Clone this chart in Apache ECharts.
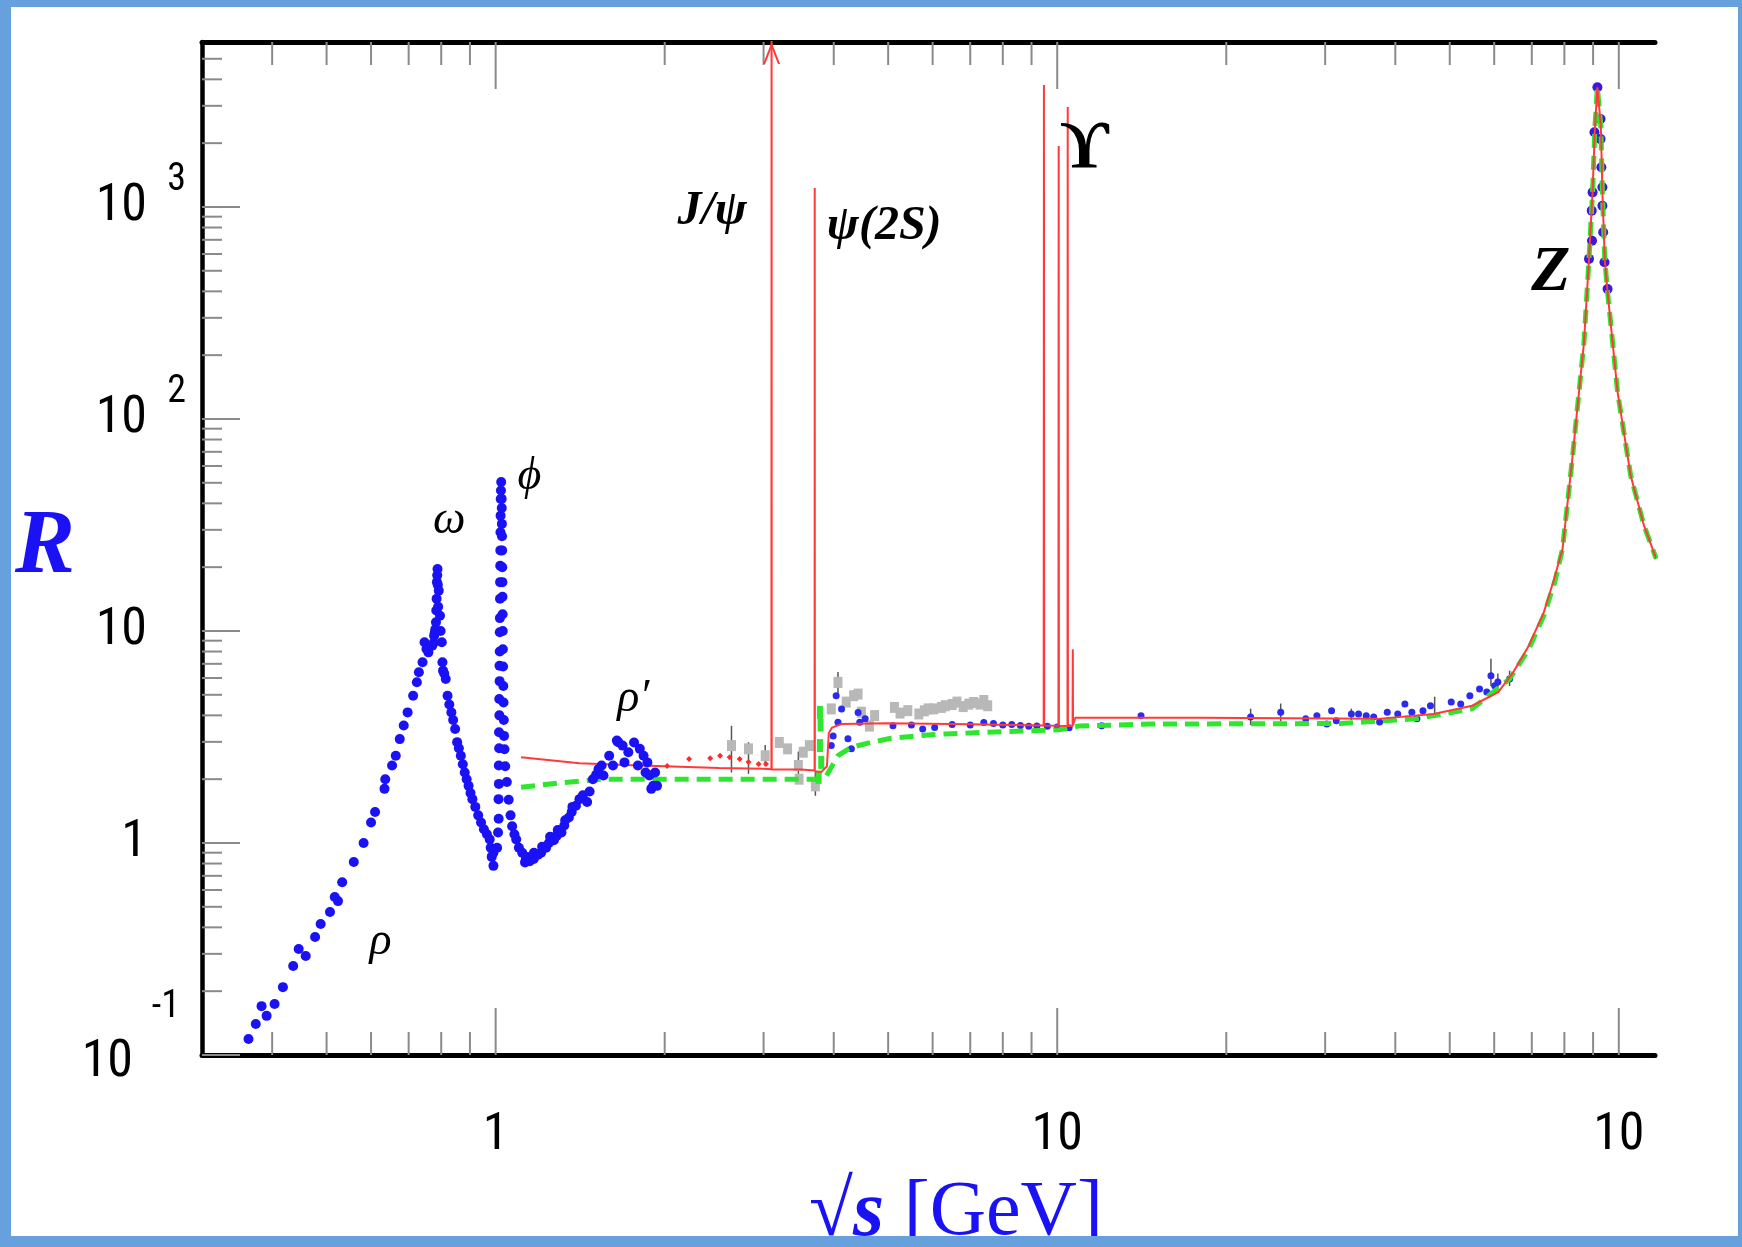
<!DOCTYPE html>
<html>
<head>
<meta charset="utf-8">
<title>R ratio</title>
<script src="https://cdn.jsdelivr.net/npm/echarts@6/dist/echarts.min.js"></script>
<style>
html,body{margin:0;padding:0;background:#fff;}
#main{width:1742px;height:1247px;}
</style>
</head>
<body>
<div id="main"></div>
<script>
// axis ranges (GeV / R)
var X_MIN = 0.3, X_MAX = 116;
var Y_MIN = 0.1, Y_MAX = 6000;

// ticks
var xMajorTicks = [1, 10, 100];
var xMinorTicks = [0.4,0.5,0.6,0.7,0.8,0.9,2,3,4,5,6,7,8,9,20,30,40,50,60,70,80,90];
var yMajorTicks = [0.1, 1, 10, 100, 1000];
var yMinorTicks = [0.2,0.3,0.4,0.5,0.6,0.7,0.8,0.9,2,3,4,5,6,7,8,9,20,30,40,50,60,70,80,90,
	200,300,400,500,600,700,800,900,2000,3000,4000,5000];

// tick labels
var xLabelVals = [1, 10, 100];
var xLabelBase = ['1', '10', '10'];
var xLabelSup = ['', '', '2'];
var yLabelVals = [0.1, 1, 10, 100, 1000];
var yLabelBase = ['10', '1', '10', '10', '10'];
var yLabelSup = ['-1', '', '', '2', '3'];

// low energy data: rho, omega, phi, rho'
var rhoData = [[0.363,0.119],[0.374,0.140],[0.383,0.170],[0.391,0.153],[0.404,0.174],[0.418,0.209],
	[0.436,0.263],[0.446,0.316],[0.459,0.293],[0.477,0.360],[0.488,0.415],[0.507,0.473],[0.517,0.556],
	[0.524,0.532],[0.533,0.653],[0.559,0.814],[0.582,1.0],[0.600,1.25],[0.610,1.40],[0.634,1.80],
	[0.636,2.0],[0.654,2.32],[0.664,2.58],[0.675,3.09],[0.686,3.58],[0.697,4.13],[0.713,4.95],
	[0.724,5.73],[0.730,6.39],[0.741,7.12],[0.747,8.85],[0.753,8.23],[0.759,7.93],[0.771,8.53],
	[0.776,8.8],[0.777,9.5],[0.779,9.8]];
var omegaData = [[0.781,10.2],[0.783,11.0],[0.784,12.5],[0.785,14.2],[0.786,17.0],[0.787,18.3],
	[0.788,19.6],[0.789,16.5],[0.790,13],[0.792,15.5],[0.796,11.8],[0.798,10.0],[0.802,8.85],
	[0.804,7.12],[0.806,6.5],[0.810,6.3],[0.815,5.94],[0.821,4.95],[0.827,4.5],[0.834,4.13],[0.84,3.8],
	[0.847,3.45],[0.854,2.99],[0.86,2.8],[0.867,2.58],[0.874,2.35],[0.881,2.15],[0.888,2.0],[0.895,1.86],
	[0.902,1.72],[0.909,1.61],[0.92,1.48],[0.931,1.35],[0.942,1.25],[0.953,1.16],[0.965,1.1],
	[0.976,1.04],[0.98,0.95],[0.984,0.86],[0.991,0.90],[0.991,0.78]];
var phiData = [[1.006,0.95],[1.010,1.12],[1.0125,1.3],[1.012,1.61],[1.0135,1.9],[1.013,2.32],
	[1.0145,2.8],[1.014,3.33],[1.0155,4.0],[1.015,4.78],[1.0165,5.8],[1.016,6.86],[1.017,8.0],
	[1.017,9.86],[1.0175,11.5],[1.018,14.2],[1.0185,17],[1.019,20.3],[1.0195,24],[1.020,29.2],
	[1.0205,35],[1.021,41.9],[1.022,46],[1.023,50.4],[1.025,42],[1.0255,38],[1.026,32],[1.0265,28],
	[1.027,24],[1.0275,20],[1.028,17],[1.0285,14.5],[1.029,12],[1.0295,10],[1.030,8.2],[1.031,6.8],
	[1.032,5.5],[1.033,4.6],[1.034,3.8],[1.035,3.2],[1.037,2.77],[1.04,2.3],[1.047,1.94],[1.055,1.6],
	[1.063,1.35],[1.07,1.2],[1.08,1.1]];
var rhoPrimeData = [[1.088,1.04],[1.10,0.95],[1.115,0.90],[1.128,0.81],[1.132,0.84],[1.14,0.86],
	[1.15,0.82],[1.169,0.84],[1.17,0.90],[1.19,0.88],[1.205,0.90],[1.21,0.96],[1.23,0.95],[1.244,1.0],
	[1.25,1.07],[1.27,1.03],[1.284,1.08],[1.29,1.15],[1.31,1.12],[1.325,1.21],[1.33,1.28],[1.35,1.32],
	[1.366,1.40],[1.37,1.48],[1.39,1.5],[1.410,1.61],[1.43,1.68],[1.455,1.56],[1.47,1.75],[1.490,2.0],
	[1.51,2.1],[1.525,2.23],[1.544,2.32],[1.556,2.08],[1.593,2.58],[1.618,2.32],[1.644,3.04],
	[1.653,2.99],[1.683,2.88],[1.696,2.40],[1.723,2.68],[1.764,2.98],[1.792,2.32],[1.806,2.78],
	[1.834,2.58],[1.849,2.15],[1.863,2.40],[1.878,2.08],[1.893,1.80],[1.908,1.86],[1.923,2.15],[1.938,1.86]];

// other experiments (grey) and charm threshold points
var greyData = [[2.63,2.88],[2.82,2.78],[3.02,2.58],[3.2,2.98],[3.31,2.78],[3.46,2.32],[3.47,2.0],
	[3.53,2.68],[3.62,2.88],[3.71,1.86],[3.96,4.29],[4.07,5.72],[4.21,4.62],[4.34,4.95],[4.42,5.04],
	[4.48,4.14],[4.63,3.56],[4.73,3.99],[5.13,4.36],[5.25,4.1],[5.42,4.21],[5.67,4.06],[5.8,4.2],
	[5.89,4.29],[6.03,4.29],[6.22,4.36],[6.32,4.44],[6.5,4.5],[6.63,4.62],[6.8,4.4],[6.96,4.52],
	[7.1,4.6],[7.29,4.52],[7.4,4.7],[7.52,4.44]];
var greenPts = [[3.76,2.04],[3.78,2.88],[3.78,4.13],[3.79,3.6],[3.8,2.4]];
var redStars = [[2.02,2.31],[2.21,2.49],[2.41,2.51],[2.51,2.58],[2.61,2.54],[2.72,2.49],[2.82,2.41],
	[2.94,2.36],[3.03,2.36]];

// error bars [x, low, high]
var errBars = [[2.63,2.15,3.57],[2.82,2.12,2.99],[3.02,2.3,2.9],[3.46,2.0,2.7],[3.71,1.67,2.16],
	[4.07,5.0,6.4],[7.52,4.2,4.7],[22.1,3.6,4.3],[25.0,3.75,4.55],[33.4,3.8,4.3],[47.0,4.0,4.9],
	[59.2,5.5,7.4],[60.9,5.2,6.3],[63.9,5.5,6.5]];

// blue data above 3.9 GeV
var midData = [[3.96,2.88],[3.99,3.2],[4.04,4.95],[4.07,3.71],[4.13,4.29],[4.24,3.1],[4.3,2.78],
	[4.42,4.13],[4.45,3.71],[4.55,3.85],[5.1,3.57],[5.5,3.6],[5.76,3.45],[6.05,3.51],[6.5,3.62],
	[7.0,3.6],[7.4,3.7],[7.7,3.66],[8.0,3.6],[8.3,3.62],[8.6,3.58],[8.9,3.55],[9.2,3.56],[9.6,3.55],
	[10.0,3.52],[10.5,3.5],[12.0,3.57],[14.1,3.98],[22.1,3.93],[25.0,4.14],[27.7,3.85],[29.0,3.98],
	[30.2,3.64],[30.8,4.21],[31.4,3.77],[33.4,4.06],[34.4,4.06],[35.5,3.98],[36.6,3.93],[37.5,3.72],
	[38.7,4.14],[40.4,4.06],[41.6,4.52],[42.8,4.14],[43.7,3.85],[44.8,4.21],[46.2,4.44],[50.3,4.62],
	[52.3,4.52],[54.3,4.95],[56.5,5.32],[58.2,5.15],[59.2,6.15],[60.1,5.52],[60.9,5.75],[63.9,5.94]];
var zData = [[88.5,569],[89.5,961],[89.6,693],[89.8,1172],[90.5,2250],[91.6,3670],[92.8,2600],
	[92.8,2090],[93.1,1540],[93.5,1240],[93.5,1014],[93.8,760],[94.3,549],[95.5,410]];

// theory curves
var redCurve = [[1.11,2.54],[1.41,2.38],[1.7,2.33],[2.0,2.30],[2.5,2.26],[3.0,2.24],[3.098,2.23],
	[3.10,20000],[3.102,2.22],[3.5,2.22],[3.698,2.2],[3.70,1230],[3.702,2.18],[3.8,2.16],[3.89,2.3],
	[3.92,3.3],[3.97,3.5],[4.13,3.64],[5,3.67],[7,3.63],[9.46,3.58],[9.47,3760],[9.48,3.58],
	[10.05,3.57],[10.06,1940],[10.07,3.57],[10.43,3.56],[10.44,2960],[10.45,3.56],[10.65,3.56],
	[10.66,8.2],[10.67,3.6],[10.77,3.9],[18,3.9],[37.2,3.85],[46.8,4.06],[54.8,4.44],[61,5.15],
	[64.9,6.4],[69.1,8.5],[73.5,12.2],[76.7,17.6],[79.4,24.4],[82.6,64],[86.7,230],[88.5,569],
	[89.8,1172],[90.7,2417],[91.6,3670],[92.9,2417],[93.5,1172],[94.4,569],[95.5,397],[99.5,134],
	[105,54],[110.9,31.4],[116.6,21.9]];
var greenCurve = [[1.11,1.83],[1.3,1.92],[1.54,2.0],[2.0,2.0],[3.0,2.0],[3.85,2.0],[4.07,2.58],
	[4.3,2.83],[4.66,2.98],[5.06,3.12],[5.5,3.18],[5.89,3.23],[6.32,3.27],[8.0,3.35],[10.1,3.42],
	[10.9,3.56],[14.7,3.64],[31.9,3.66],[43.4,3.85],[54.8,4.29],[63.9,5.94],[69.1,8.2],[73.5,11.8],
	[76.9,17],[79.4,24.4],[82.6,64],[86.7,230],[88.5,569],[89.8,1172],[90.7,2417],[91.6,3670],
	[92.9,2417],[93.5,1172],[94.4,569],[95.5,397],[99.5,134],[105,54],[110.9,31.4],[116.6,21.9]];

// resonance labels
var annNames = ['ρ', 'ω', 'ϕ', 'ρ′', 'J/ψ', 'ψ(2S)', 'ϒ', 'Z'];
var annX = [0.624, 0.827, 1.149, 1.758, 2.43, 4.92, 11.2, 75.7];
var annY = [0.341, 32.9, 53.2, 4.78, 947, 809, 1878, 488];

var NARROW = '"Liberation Sans Narrow","Arial Narrow","Roboto Condensed","DejaVu Sans Condensed",sans-serif';
var SERIF = '"Liberation Serif","DejaVu Serif",serif';
var BLUE = '#1a12f5';
var tickStyle = {stroke: '#8a8a8a', lineWidth: 2};

// ticks as [x, y, kind]  kind: 0 x-major, 1 x-minor, 2 y-major, 3 y-minor
function buildTicks(){
	var out = [];
	xMajorTicks.forEach(function(v){ out.push([v, Y_MIN, 0]); });
	xMinorTicks.forEach(function(v){ out.push([v, Y_MIN, 1]); });
	yMajorTicks.forEach(function(v){ out.push([X_MIN, v, 2]); });
	yMinorTicks.forEach(function(v){ out.push([X_MIN, v, 3]); });
	return out;
}
function renderTick(params, api){
	var kind = api.value(2);
	var major = (kind === 0 || kind === 2);
	if(kind < 2){
		var v = api.value(0);
		var pb = api.coord([v, Y_MIN]);
		var pt = api.coord([v, Y_MAX]);
		var len = major ? 47 : 23;
		return {type:'group', children:[
			{type:'line', shape:{x1:pb[0], y1:pb[1], x2:pb[0], y2:pb[1]-len}, style:tickStyle},
			{type:'line', shape:{x1:pt[0], y1:pt[1], x2:pt[0], y2:pt[1]+len}, style:tickStyle}
		]};
	}
	var p = api.coord([X_MIN, api.value(1)]);
	var l = major ? 38 : 20;
	return {type:'line', shape:{x1:p[0], y1:p[1], x2:p[0]+l, y2:p[1]}, style:tickStyle};
}
//误差棒
function renderErr(params, api){
	var lo = api.coord([api.value(0), api.value(1)]);
	var hi = api.coord([api.value(0), api.value(2)]);
	return {type:'line', shape:{x1:lo[0], y1:lo[1], x2:hi[0], y2:hi[1]}, style:{stroke:'#555', lineWidth:1.5}};
}
function sameDecade(a, b){
	return Math.abs(Math.log10(a) - Math.log10(b)) < 1e-6;
}
function yLabel(v){
	for(var i=0;i<yLabelVals.length;i++){
		if(sameDecade(v, yLabelVals[i])){
			if(i === 0) return '{c|' + yLabelBase[i] + '}{t|' + yLabelSup[i] + '}';
			return '{b|' + yLabelBase[i] + '}{s|' + yLabelSup[i] + '}';
		}
	}
	return '';
}
function xLabel(v){
	for(var i=0;i<xLabelVals.length;i++){
		if(sameDecade(v, xLabelVals[i])){
			if(xLabelSup[i]) return '{sp|}{b|' + xLabelBase[i] + '}{s|' + xLabelSup[i] + '}';
			return '{b|' + xLabelBase[i] + '}';
		}
	}
	return '';
}
function annItems(){
	var big = {'ϒ': [68, 'normal', 'bold'], 'Z': [64, 'italic', 'bold'], 'J/ψ': [48, 'italic', 'bold'], 'ψ(2S)': [48, 'italic', 'bold']};
	return annNames.map(function(n, i){
		var st = big[n] || [46, 'italic', 'normal'];
		return {name:n, value:[annX[i], annY[i]],
			label:{fontSize:st[0], fontStyle:st[1], fontWeight:st[2]}};
	});
}

var myChart = echarts.init(document.getElementById('main'));
var option = {
	animation:false,
	backgroundColor:'#fff',
	grid:{left:202, top:42, width:1453, height:1013, containLabel:false, outerBoundsMode:'none'},
	xAxis:[
		{
			type:'log', min:X_MIN, max:X_MAX, position:'bottom',
			axisLine:{lineStyle:{color:'#000', width:5}},
			axisTick:{show:false}, splitLine:{show:false},
			axisLabel:{
				margin:39, formatter:xLabel, showMinLabel:false, showMaxLabel:false,
				rich:{
					b:{fontSize:52, lineHeight:44, padding:[40,0,0,0], fontFamily:NARROW, color:'#000'},
					s:{fontSize:38, lineHeight:44, verticalAlign:'top', width:26, align:'left', padding:[0,0,0,12], fontFamily:NARROW, color:'#000'},
					sp:{width:38, lineHeight:44}
				}
			},
			name:'{r|√}{s|s}{g| [GeV]}', nameLocation:'middle', nameGap:119, nameMoveOverlap:false,
			nameTextStyle:{
				color:BLUE, padding:[0,0,0,55],
				rich:{
					r:{fontSize:80, lineHeight:80, fontWeight:'bold', fontFamily:SERIF, color:BLUE},
					s:{fontSize:80, lineHeight:80, fontWeight:'bold', fontStyle:'italic', fontFamily:SERIF, color:BLUE},
					g:{fontSize:78, lineHeight:80, fontFamily:SERIF, color:BLUE}
				}
			}
		},
		{
			type:'log', min:X_MIN, max:X_MAX, position:'top',
			axisLine:{lineStyle:{color:'#000', width:5}},
			axisTick:{show:false}, axisLabel:{show:false}, splitLine:{show:false}
		}
	],
	yAxis:{
		type:'log', min:Y_MIN, max:Y_MAX,
		axisLine:{lineStyle:{color:'#000', width:4.5}},
		axisTick:{show:false}, splitLine:{show:false},
		axisLabel:{
			margin:16, formatter:yLabel, showMaxLabel:false,
			rich:{
				b:{fontSize:52, lineHeight:44, fontFamily:NARROW, color:'#000', verticalAlign:'middle'},
				s:{fontSize:38, lineHeight:34, width:39, align:'right', padding:[0,0,52,0], fontFamily:NARROW, color:'#000', verticalAlign:'middle'},
				c:{fontSize:52, lineHeight:44, padding:[16,0,0,0], fontFamily:NARROW, color:'#000', verticalAlign:'middle'},
				t:{fontSize:38, lineHeight:34, width:47, align:'right', padding:[0,6,96,0], fontFamily:NARROW, color:'#000', verticalAlign:'middle'}
			}
		},
		name:'R', nameLocation:'middle', nameGap:127, nameRotate:0, nameMoveOverlap:false,
		nameTextStyle:{fontSize:90, fontFamily:SERIF, fontStyle:'italic', fontWeight:'bold', color:BLUE}
	},
	series:[
		{
			type:'custom', name:'ticks', data:buildTicks(), renderItem:renderTick,
			clip:false, silent:true, z:1
		},
		{
			type:'custom', name:'errors', data:errBars, renderItem:renderErr,
			silent:true, z:2
		},
		{
			type:'scatter', name:'other', data:greyData, symbol:'rect', symbolSize:[9,11],
			itemStyle:{color:'#b8b8b8', opacity:1}, silent:true, z:2
		},
		{
			type:'scatter', name:'threshold', data:greenPts, symbol:'rect', symbolSize:[6,13],
			itemStyle:{color:'#2ee62e', opacity:1}, silent:true, z:2
		},
		{
			type:'scatter', name:'data high', data:midData, symbolSize:7,
			itemStyle:{color:'#2a2af0', opacity:1}, silent:true, z:3
		},
		{
			type:'scatter', name:'Z data', data:zData, symbolSize:10,
			itemStyle:{color:'#3a18e0', opacity:1}, silent:true, z:3
		},
		{
			type:'line', name:'naive', data:greenCurve, showSymbol:false, symbol:'none',
			lineStyle:{color:'#2ee62e', width:5, type:[14,8]}, silent:true, z:4
		},
		{
			type:'line', name:'QCD', data:redCurve, showSymbol:false, symbol:'none',
			lineStyle:{color:'#ff3a3a', width:2}, silent:true, z:5,
			markPoint:{
				silent:true,
				symbol:'path://M0,24 L10,0 L20,24 L17.5,24 L10,6 L2.5,24 Z',
				symbolSize:[17,22], symbolOffset:[0,11],
				itemStyle:{color:'#ff3a3a'}, label:{show:false},
				data:[{coord:[redCurve[7][0], Y_MAX]}]
			}
		},
		{
			type:'scatter', name:'stars', data:redStars, symbol:'diamond', symbolSize:6,
			itemStyle:{color:'#ff2a2a', opacity:1}, silent:true, z:6
		},
		{
			type:'scatter', name:'data low', data:rhoData.concat(omegaData, phiData, rhoPrimeData),
			symbolSize:10, itemStyle:{color:BLUE, opacity:1}, silent:true, z:6
		},
		{
			type:'scatter', name:'labels', data:annItems(), symbol:'circle', symbolSize:1,
			itemStyle:{color:'rgba(0,0,0,0)'}, silent:true, z:7,
			label:{show:true, position:'inside', formatter:'{b}', color:'#000', opacity:1, fontFamily:SERIF}
		}
	],
	graphic:[
		{type:'rect', z:99, shape:{x:1658, y:950, width:82, height:290}, style:{fill:'#fff'}},
		{type:'rect', z:100, shape:{x:0, y:0, width:11, height:1247}, style:{fill:'#67a1dd'}},
		{type:'rect', z:100, shape:{x:0, y:0, width:1742, height:7}, style:{fill:'#67a1dd'}},
		{type:'rect', z:100, shape:{x:0, y:1236, width:1742, height:11}, style:{fill:'#67a1dd'}},
		{type:'rect', z:100, shape:{x:1738, y:0, width:4, height:1247}, style:{fill:'#67a1dd'}}
	]
};
myChart.setOption(option);
</script>
</body>
</html>
